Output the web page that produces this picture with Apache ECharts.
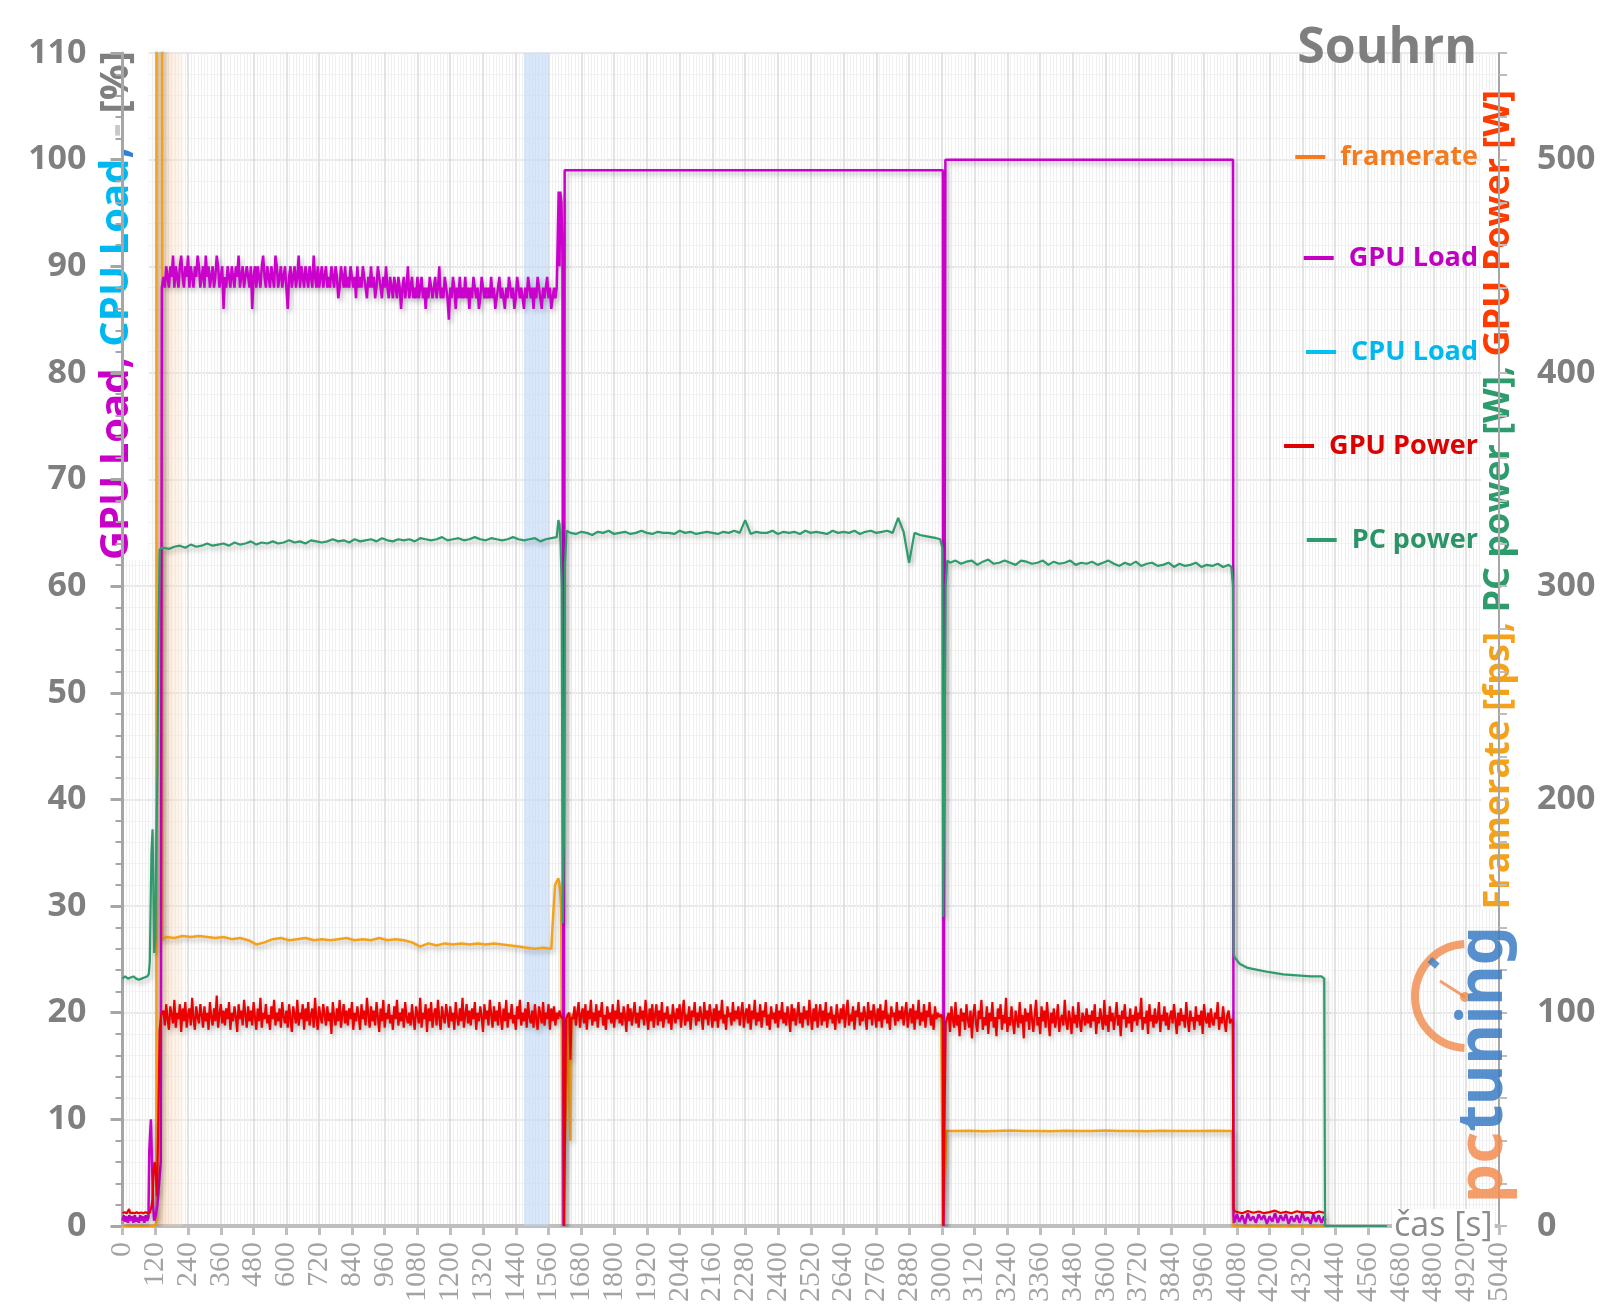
<!DOCTYPE html>
<html><head><meta charset="utf-8">
<script src="https://cdn.jsdelivr.net/npm/echarts@6/dist/echarts.min.js"></script>
<style>html,body{margin:0;padding:0;background:#fff}#c{width:1600px;height:1314px}</style>
</head><body><div id="c"></div>
<script>
// ---------- names ----------
const seriesNames = ['framerate', 'GPU Load', 'CPU Load', 'GPU Power', 'PC power'];

// ---------- framerate [fps] (right axis) ----------
const fpsHead = [[0,0],[40,0],[80,0],[118,0],[122,1],[124,3],[125,700],[145,700],[146,134],[152,135]];
const fpsA = [135.5,135,136,135.5,136,135.5,135,135.5,134.5,135,134,132,133,134.5,135,134,134.5,135,134,134.5,134,134.5,135,134,134.5,134,135,134,134.5,134,133,131,132.5,131.5,132.5,132,132.5,132,132.5,132,132.5,132,131.5,131,130.5,130,130.5,130]; // t=160..1570 step 30
const fpsMid = [[1574,130],[1578,148],[1584,160],[1596,163],[1602,158],[1606,150],[1612,0],[1618,0],[1624,60],[1630,99],[1636,99],[1640,40],[1644,99]];
const fpsB = [99,98.5,99.5,99,98,99.5,99,100,98.5,99,99.5,98.5,99,100,99,98.5,99.5,99,99,98.5,100,99,99.5,98.5,99,99.5,99,98.5,99.5,99,100,99,98.5,99.5,99,99,100,98.5,99.5,99,99.5,98.5,100,99,99]; // t=1650..2970 step 30
const fpsMid2 = [[2990,99],[2998,99],[3004,0],[3010,0],[3013,30],[3016,44.5],[3030,44.6]];
const fpsC = [44.5,44.7,44.4,44.6,44.8,44.5,44.6,44.4,44.7,44.5,44.6,44.8,44.5,44.6,44.4,44.7,44.5,44.6,44.5,44.7,44.6]; // t=3050..4050 step 50
const fpsTail = [[4064,44.5],[4066,0],[4200,0],[4404,0]];

// ---------- GPU Load [%] (left axis) ----------
const gpuLoadHead = [[0,0.5],[5,1],[10,0.4],[15,0.9],[20,0.3],[25,1],[30,0.5],[35,0.9],[40,0.3],[45,1],[50,0.4],[55,0.8],[60,0.3],[65,1],[70,0.5],[75,0.9],[80,0.3],[85,1],[90,0.5],[95,0.8],[98,7],[102,7],[104,10],[110,10],[112,2],[116,0.5],[122,1],[128,2],[134,4],[140,6],[144,88]];
const gpuLoadA = [
89,88,90,89,88,90,89,91,88,90,89,88,90,91,89,88,90,
89,91,88,90,89,88,90,89,91,90,88,89,90,88,91,89,90,
88,89,90,88,89,91,90,88,89,90,86,89,88,90,89,88,90,
89,88,90,89,91,88,89,90,88,89,90,89,88,90,86,89,90,
88,90,89,88,90,91,89,88,90,89,88,90,89,88,91,90,88,
89,90,88,89,90,88,86,89,90,88,89,90,88,89,91,88,90,
89,88,90,89,88,90,89,88,91,89,88,90,88,89,90,88,89,
90,88,89,88,90,89,88,90,89,87,88,90,89,88,90,88,89,
88,90,89,88,89,87,90,88,89,88,90,89,88,87,89,88,90,
88,89,87,88,90,89,88,87,89,88,90,88,87,89,88,87,89,
88,87,89,88,86,88,89,87,88,90,87,88,89,87,88,87,89,
87,88,89,87,88,86,88,87,89,88,87,88,89,87,88,90,87,
88,87,89,88,87,85,88,87,89,88,86,88,87,89,87,88,87,
89,87,88,86,88,87,89,88,87,88,86,87,89,88,87,88,87,
88,87,89,87,88,86,87,88,89,87,88,87,86,88,87,89,88,
87,88,86,87,89,88,87,88,87,86,88,87,89,88,87,88,86,
88,87,89,88,87,86,88,87,88,89,87,88,86,87,88,87,88]; // t=150..1590 step 5
const gpuLoadMid = [[1594,88],[1597,97],[1600,90],[1603,97],[1607,96],[1611,91],[1615,0],[1619,99],[3004,99],[3006,0],[3011,0],[3013,100],[4066,100],[4068,1]];
const gpuLoadB = [0.3,1.1,0.4,1.0,0.2,1.2,0.5,0.9,0.3,1.1,0.6,1.0,0.2,0.9,0.4,1.2,0.3,1.0,0.5,1.1,0.2,0.9,0.4,1.0,0.3,1.2,0.5,0.8,0.2,1.1,0.4,1.0,0.3,0.9]; // t=4070..4400 step 10
const gpuLoadTail = [[4404,0.5]];

// ---------- CPU Load [%] (no visible data) ----------
const cpuLoad = [];

// ---------- GPU Power [W] (right axis) ----------
const gpuPowerHead = [[0,6],[8,6.5],[16,6],[24,8],[28,6],[36,6.2],[44,6],[52,6.4],[60,6],[68,6.3],[76,6],[84,6.5],[92,6],[100,6.2],[106,9],[110,13],[114,27],[118,30],[122,24],[126,14],[130,40],[136,92],[142,99]];
const gpuPowerA = [
101,94,104,97,92,103,99,95,106,93,100,97,104,91,102,
96,105,93,99,102,94,107,97,92,103,98,95,104,99,93,
103,96,100,92,105,98,94,102,96,108,93,99,104,95,101,
94,102,97,105,92,100,96,103,98,91,104,97,101,94,106,
99,93,103,96,101,94,105,98,92,102,96,107,93,100,97,
104,95,99,92,103,97,106,94,100,96,102,93,105,98,95,
101,93,104,97,91,103,99,95,106,94,100,97,104,92,102,
96,105,94,99,102,93,107,97,92,103,98,95,104,99,94,
103,96,100,90,105,98,94,102,96,106,93,99,104,95,101,
94,102,97,105,92,100,96,103,98,92,104,97,101,94,107,
99,93,103,96,101,94,105,98,91,102,96,106,93,100,97,
104,95,99,92,103,97,106,94,100,96,102,93,105,98,95,
100,94,104,97,92,103,99,95,107,93,100,97,104,91,102,
96,105,93,99,102,94,106,97,92,103,98,95,104,99,93,
103,96,100,92,105,98,94,102,96,107,93,99,104,95,101,
94,102,97,105,92,100,96,103,98,91,104,97,101,94,106,
99,93,103,96,101,94,105,98,92,102,96,106,93,100,97,
104,95,99,92,103,97,106,94,100,96,102,93,105,98,95,
101,93,104,97,92,103,99,95,105,94,100,97,104,92,102,
96,103,94,100,97,101]; // t=150..1600 step 5
const gpuPowerMid = [[1606,98],[1614,97],[1617,0],[1621,0],[1624,97],[1630,99],[1636,100],[1640,78],[1644,98]];
const gpuPowerB = [
97,103,94,100,105,93,99,102,95,104,92,101,97,106,94,
100,96,104,93,101,98,105,94,99,92,103,97,100,95,104,
93,101,97,106,95,100,94,103,98,91,104,96,102,94,99,
105,95,100,93,103,97,101,94,106,98,92,102,96,104,93,
99,104,94,101,96,105,93,100,97,103,95,99,92,104,98,
95,102,97,104,93,100,106,94,99,96,103,92,101,98,105,
94,100,96,103,98,92,105,97,101,94,104,99,93,102,96,
104,93,101,97,106,95,99,92,103,98,100,94,105,96,101,
97,103,94,100,105,93,99,102,95,104,92,101,97,106,94,
100,96,104,93,101,98,105,94,99,92,103,97,100,95,104,
93,101,97,105,95,100,94,103,98,91,104,96,102,94,99,
105,95,100,93,103,97,101,94,106,98,92,102,96,104,93,
99,104,94,101,96,105,93,100,97,103,95,99,92,104,98,
95,102,97,104,93,100,106,94,99,96,103,92,101,98,105,
94,100,96,103,98,92,105,97,101,94,104,99,93,102,96,
104,93,101,97,106,95,99,92,103,98,100,94,105,96,101,
97,103,94,100,105,93,99,102,95,104,92,101,97,106,94,
100,96,104,93,101,98,105,94,99,92,103,97,100,98]; // t=1650..2990 step 5
const gpuPowerMid2 = [[2998,99],[3003,97],[3005,0],[3011,0],[3014,95]];
const gpuPowerC = [
95,100,91,103,97,93,105,94,99,89,102,96,100,92,104,
97,93,101,88,99,104,95,91,101,97,106,92,98,94,103,
90,100,96,105,93,98,89,102,97,104,92,99,95,107,91,
98,94,103,96,90,101,97,93,105,95,99,88,102,96,100,
92,104,97,91,99,106,94,98,90,103,96,101,93,105,97,
89,100,95,102,93,98,104,91,97,99,94,106,96,92,101,
97,90,103,95,99,93,105,96,91,100,98,94,102,95,99,
93,101,96,104,90,98,95,102,97,92,106,94,99,91,103,
96,100,92,98,105,94,99,89,101,97,104,93,98,95,102,
91,99,96,103,94,100,97,107,92,98,95,101,90,104,96,
99,93,102,95,97,105,91,99,96,103,94,100,92,98,101,
95,104,97,90,100,94,102,96,99,93,105,97,91,101,96,
98,92,103,96,99,94,101,90,104,97,95,100,93,102,96,
94,100,97,105,92,98,95,103,96,91,99,101,95,97]; // t=3020..4060 step 5
const gpuPowerMid3 = [[4065,96],[4068,8],[4074,6.8]];
const gpuPowerD = [6.5,6,7,6.2,6.8,6,6.5,7.2,6.1,6.6,6,6.9,6.3,6.5,6,6.8,6.2]; // t=4080..4400 step 20
const gpuPowerTail = [[4404,6]];

// ---------- PC power [W] (right axis) ----------
const pcPowerHead = [[0,116],[10,117],[20,116],[30,116.5],[40,117],[50,116],[60,115.5],[70,116],[80,116.5],[90,117],[96,118],[100,124],[103,150],[106,175],[110,186],[113,160],[116,128],[120,135],[124,180],[128,215],[132,280],[136,317],[142,318]];
const pcPowerA = [318,317.5,318.5,319,318,319.5,318.5,319,320,319,319.5,320,319,320.5,319.5,
320,321,319.5,320.5,320,321,320,320.5,321.5,320.5,321,320,321.5,321,320.5,
321,322,321,321.5,320.5,322,321,321.5,322,321,322.5,321.5,321,322,321.5,
322,321,322.5,322,321.5,322,323,321.5,322,322.5,321.5,322,323,322,321.5,
322.5,322,321.5,322,323,322,321.5,322,322.5,321,322,322.5,323]; // t=150..1590 step 20
const pcPowerMid = [[1596,331],[1600,329],[1604,320],[1608,300],[1612,142],[1616,180],[1620,310],[1626,326]];
const pcPowerB = [325,324.5,325.5,325,324,325.5,325,326,324.5,325,325.5,324.5,325,326,325,
324.5,325.5,325,325,324.5,326,325,325.5,324.5,325,325.5,325,324.5,325.5,325,
326,325,331,324.5,325.5,325,325,326,324.5,325.5,325,325.5,324.5,326,325,
325.5,325,324.5,326,325,325.5,325,326,324.5,325.5,326,325,325.5,326,325,
332,325.5,311,325,324,323.5,323,322.5]; // t=1640..2980 step 20
const pcPowerMid2 = [[2994,322],[3002,318],[3005,145],[3008,200],[3011,240],[3014,300],[3020,312]];
const pcPowerC = [311,312,310.5,311.5,312,310,311.5,312.5,310.5,311,312,311,310,312,311.5,
310.5,311,312,310,311.5,310.5,311,312,310,311,310.5,311.5,310,311,312,
310.5,309.5,311,310,311.5,309.5,310.5,311,309.5,310,311,309,310.5,309.5,
310,311,309,310,309.5,310.5,309,310]; // t=3030..4050 step 20
const pcPowerTail = [[4060,309],[4066,300],[4068,128],[4072,126],[4090,123],[4120,121],[4160,120],[4200,119],[4250,118],[4300,117.5],[4350,117],[4390,117],[4400,116],[4403,0],[4630,0]];

// ---------- axes ----------
const leftTicks = [0,10,20,30,40,50,60,70,80,90,100,110];
const rightTicks = [0,100,200,300,400,500];
const xMax = 5040, xStep = 120;

// sample times of the logged readings (regular sampling)
function samples(start, step, values) { return values.map((v, i) => [start + i * step, v]); }

const framerate = [].concat(fpsHead, samples(160,30,fpsA), fpsMid, samples(1650,30,fpsB), fpsMid2, samples(3050,50,fpsC), fpsTail);
const gpuLoad = [].concat(gpuLoadHead, samples(150,5,gpuLoadA), gpuLoadMid, samples(4070,10,gpuLoadB), gpuLoadTail);
const gpuPower = [].concat(gpuPowerHead, samples(150,5,gpuPowerA), gpuPowerMid, samples(1650,5,gpuPowerB), gpuPowerMid2, samples(3020,5,gpuPowerC), gpuPowerMid3, samples(4080,20,gpuPowerD), gpuPowerTail);
const pcPower = [].concat(pcPowerHead, samples(150,20,pcPowerA), pcPowerMid, samples(1640,20,pcPowerB), pcPowerMid2, samples(3030,20,pcPowerC), pcPowerTail);

const lineColors = ['#f5a21b', '#cc00cc', '#00bff3', '#ee0000', '#2e9b6c'];
const legendIcon = ['#f47c20', '#c400c4', '#00bff3', '#e00000', '#2e9b6c'];
const legendText = ['#f47c20', '#c000c0', '#00b8ee', '#dd0000', '#2a9466'];
const legendCenters = [157, 258, 352, 446, 540];

const FONT = 'Open Sans';
const chart = echarts.init(document.getElementById('c'), null, {renderer: 'canvas'});

const shadow = {shadowColor: 'rgba(0,0,0,0.28)', shadowBlur: 5, shadowOffsetX: 2, shadowOffsetY: 3};
function mkLine(i, data, yIdx, z, width) {
  return {
    name: seriesNames[i], type: 'line', data: data, yAxisIndex: yIdx, z: z,
    showSymbol: false, symbol: 'none', animation: false, clip: true,
    itemStyle: {color: lineColors[i]},
    lineStyle: Object.assign({color: lineColors[i], width: width}, shadow)
  };
}

const option = {
  backgroundColor: '#ffffff',
  animation: false,
  title: {
    text: 'Souhrn', right: 118, top: 19,
    textStyle: {color: '#7f7f7f', fontSize: 50, fontWeight: 'bold', fontFamily: FONT}
  },
  legend: seriesNames.map((n, i) => ({
    data: [{name: n, itemStyle: {color: legendIcon[i]}, textStyle: {color: legendText[i]}}],
    right: 122, top: legendCenters[i] - 18, padding: 0,
    icon: 'rect', itemWidth: 30, itemHeight: 4, selectedMode: false,
    textStyle: {fontSize: 27, fontWeight: 'bold', fontFamily: FONT, lineHeight: 36, padding: [0,0,0,10]}
  })),
  grid: {left: 122.5, right: 101, top: 53, bottom: 88, containLabel: false, outerBoundsMode: 'none'},
  xAxis: {
    type: 'value', min: 0, max: xMax, interval: xStep,
    axisLine: {show: true, onZero: false, lineStyle: {color: '#bfbfbf', width: 4}},
    axisTick: {show: true, length: 9, lineStyle: {color: '#bfbfbf', width: 3}},
    minorTick: {show: false, splitNumber: 10},
    splitLine: {show: true, lineStyle: {color: '#dadada', width: 1.5}},
    minorSplitLine: {show: true, lineStyle: {color: '#f0f0f0', width: 1}},
    axisLabel: {rotate: 90, margin: 16, color: '#a3a3a3', fontSize: 30, fontFamily: 'Liberation Sans Narrow', showMinLabel: true, showMaxLabel: true,
      formatter: v => String(v)}
  },
  yAxis: [{
    type: 'value', min: leftTicks[0], max: leftTicks[leftTicks.length - 1], interval: 10, position: 'left',
    axisLine: {show: true, lineStyle: {color: '#a6a6a6', width: 3}},
    axisTick: {show: true, length: 12, lineStyle: {color: '#a6a6a6', width: 3}},
    minorTick: {show: true, splitNumber: 5, length: 7, lineStyle: {color: '#a6a6a6', width: 2}},
    splitLine: {show: true, lineStyle: {color: '#e0e0e6', width: 1.5}},
    minorSplitLine: {show: true, lineStyle: {color: '#f2f2f2', width: 1}},
    axisLabel: {margin: 36, color: '#7f7f7f', fontSize: 34, fontWeight: 'bold', fontFamily: FONT},
    name: '{a|GPU Load, }{b|CPU Load}{c|, }{d|- }{e|[%]}',
    nameLocation: 'start', nameGap: -1175, nameRotate: 90, nameMoveOverlap: false,
    nameTextStyle: {
      fontSize: 40, fontWeight: 'bold', fontFamily: FONT, backgroundColor: '#ffffff', padding: [0, 0, 12, 0],
      rich: {
        a: {color: '#c800c8', fontSize: 40, fontWeight: 'bold', fontFamily: FONT},
        b: {color: '#00b8f0', fontSize: 40, fontWeight: 'bold', fontFamily: FONT},
        c: {color: '#2f7fd8', fontSize: 40, fontWeight: 'bold', fontFamily: FONT},
        d: {color: '#c8c8c8', fontSize: 40, fontWeight: 'bold', fontFamily: FONT},
        e: {color: '#7f7f7f', fontSize: 40, fontWeight: 'bold', fontFamily: FONT}
      }
    }
  }, {
    type: 'value', min: rightTicks[0], max: 550, interval: 100, position: 'right',
    axisLine: {show: true, lineStyle: {color: '#a6a6a6', width: 2}},
    axisTick: {show: true, length: 8, lineStyle: {color: '#bdbdbd', width: 2}},
    minorTick: {show: true, splitNumber: 5, length: 8, lineStyle: {color: '#bdbdbd', width: 2}},
    splitLine: {show: false}, minorSplitLine: {show: false},
    axisLabel: {margin: 38, color: '#7f7f7f', fontSize: 34, fontWeight: 'bold', fontFamily: FONT,
      formatter: v => rightTicks.indexOf(v) >= 0 ? String(v) : ''},
    name: '{a|Framerate [fps], }{b|PC power [W], }{c|GPU Power [W]}',
    nameLocation: 'start', nameGap: -1136, nameRotate: 90, nameMoveOverlap: false,
    nameTextStyle: {
      fontSize: 36, fontWeight: 'bold', fontFamily: FONT, backgroundColor: '#ffffff',
      rich: {
        a: {color: '#f5a21b', fontSize: 36, fontWeight: 'bold', fontFamily: FONT},
        b: {color: '#2e9b6c', fontSize: 36, fontWeight: 'bold', fontFamily: FONT},
        c: {color: '#ff3c00', fontSize: 36, fontWeight: 'bold', fontFamily: FONT}
      }
    }
  }],
  series: [
    {
      name: 'bands', type: 'line', data: [], yAxisIndex: 0, z: 1, silent: true,
      markArea: {
        silent: true, z: 1,
        data: [
          [{xAxis: 126, itemStyle: {color: new echarts.graphic.LinearGradient(0, 0, 1, 0, [
            {offset: 0, color: 'rgba(246,178,120,0.45)'}, {offset: 1, color: 'rgba(252,228,205,0.25)'}])}}, {xAxis: 222}],
          [{xAxis: 1470, itemStyle: {color: 'rgba(190,215,245,0.6)'}}, {xAxis: 1560}]
        ]
      }
    },
    mkLine(0, framerate, 1, 3, 2.5),
    mkLine(1, gpuLoad, 0, 4, 2.5),
    mkLine(2, cpuLoad, 0, 5, 2),
    mkLine(3, gpuPower, 1, 6, 2.2),
    mkLine(4, pcPower, 1, 7, 2.2)
  ],
  graphic: [
    {type: 'text', z: 100, silent: true, x: 1392, y: 1226,
      style: {text: 'čas [s]', fill: '#8c8c8c', fontSize: 34, fontFamily: FONT, align: 'left', verticalAlign: 'middle',
        backgroundColor: '#ffffff', padding: [0, 2, 0, 2]}},
    {type: 'arc', z: 50, silent: true,
      shape: {cx: 1467, cy: 996, r: 52, startAngle: 1.62, endAngle: 4.66, clockwise: true},
      style: {stroke: '#f08a4b', lineWidth: 8, fill: null, opacity: 0.8}},
    {type: 'line', z: 50, silent: true, shape: {x1: 1440, y1: 981, x2: 1465, y2: 997},
      style: {stroke: '#f08a4b', lineWidth: 3, opacity: 0.8}},
    {type: 'circle', z: 50, silent: true, shape: {cx: 1465, cy: 997, r: 5},
      style: {fill: '#f08a4b', opacity: 0.8}},
    {type: 'rect', z: 51, silent: true, x: 1432, y: 957, rotation: -0.7, shape: {x: 0, y: 0, width: 10, height: 7},
      style: {fill: '#3b7dc4', opacity: 0.8}},
    {type: 'text', z: 52, silent: true, x: 1484, y: 1203, rotation: Math.PI / 2,
      style: {text: '{p|pc}{t|tuning}', align: 'left', verticalAlign: 'middle', opacity: 0.85,
        rich: {
          p: {fill: '#f28d52', fontSize: 62, fontWeight: 'bold', fontFamily: 'Noto Sans'},
          t: {fill: '#3b7dc4', fontSize: 62, fontWeight: 'bold', fontFamily: 'Noto Sans'}
        }}}
  ]
};
chart.setOption(option);
</script>
</body></html>
